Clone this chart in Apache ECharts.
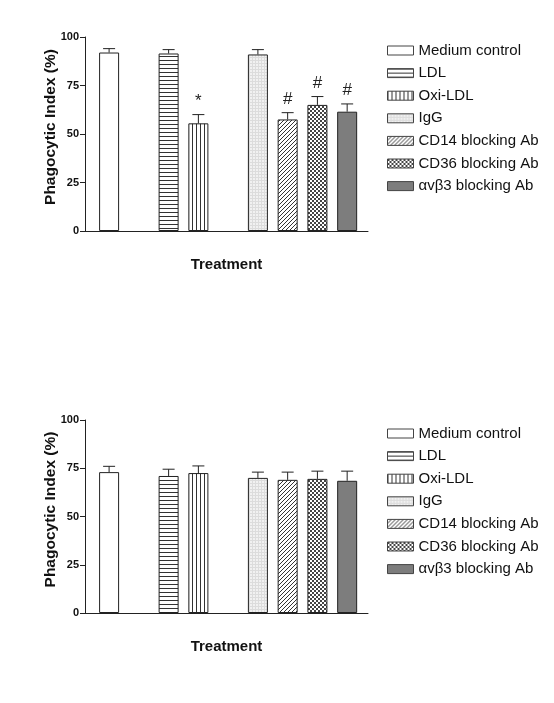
<!DOCTYPE html>
<html>
<head>
<meta charset="utf-8">
<script src="https://cdn.jsdelivr.net/npm/echarts@6/dist/echarts.min.js"></script>
<style>
  html, body { margin: 0; padding: 0; background: #fff; }
  #chart { width: 554px; height: 703px; }
</style>
</head>
<body>
<div id="chart"></div>
<script>
// treatment groups and the x slot each one sits in (slots 1 and 4 are empty)
const groups = ['Medium control', 'LDL', 'Oxi-LDL', 'IgG', 'CD14 blocking Ab', 'CD36 blocking Ab', 'αvβ3 blocking Ab'];
const slots = [0, 2, 3, 5, 6, 7, 8];

// upper panel
const meanTop = [92, 91.5, 55.5, 91, 57.5, 65, 61.5];
const errTop = [2, 2, 4.5, 2.5, 3.5, 4.3, 4];
const marksTop = ['', '', '*', '', '#', '#', '#'];

// lower panel
const meanBottom = [73, 71, 72.5, 70, 69, 69.5, 68.5];
const errBottom = [3, 3.5, 3.7, 3, 4, 4, 5];
const marksBottom = ['', '', '', '', '', '', ''];

const yTicks = [0, 25, 50, 75, 100];

const FONT = 'Liberation Sans, Arial, sans-serif';

function tile(w, h, draw) {
    const c = document.createElement('canvas');
    c.width = w;
    c.height = h;
    const ctx = c.getContext('2d');
    draw(ctx, w, h);
    return { image: c, repeat: 'repeat' };
}

const fills = [
    '#ffffff',
    tile(4, 4, (ctx, w) => {
        ctx.fillStyle = '#fff'; ctx.fillRect(0, 0, w, 4);
        ctx.fillStyle = '#333'; ctx.fillRect(0, 0, w, 1);
    }),
    tile(4, 4, (ctx, w, h) => {
        ctx.fillStyle = '#fff'; ctx.fillRect(0, 0, w, h);
        ctx.fillStyle = '#333'; ctx.fillRect(0, 0, 1, h);
    }),
    tile(3, 3, (ctx, w, h) => {
        ctx.fillStyle = '#f1f1f1'; ctx.fillRect(0, 0, w, h);
        ctx.fillStyle = '#dcdcdc'; ctx.fillRect(0, 0, w, 1); ctx.fillRect(0, 0, 1, h);
    }),
    tile(4, 4, (ctx, w, h) => {
        ctx.fillStyle = '#fff'; ctx.fillRect(0, 0, w, h);
        ctx.fillStyle = '#333';
        for (let i = 0; i < 4; i++) {
            ctx.fillRect(i, 3 - i, 1, 1);
        }
    }),
    tile(4, 4, (ctx, w, h) => {
        ctx.fillStyle = '#fff'; ctx.fillRect(0, 0, w, h);
        ctx.fillStyle = '#444';
        ctx.fillRect(0, 0, 2, 2); ctx.fillRect(2, 2, 2, 2);
    }),
    '#7d7d7d'
];

function barSeries(idx, means) {
    return groups.map((g, i) => ({
        type: 'bar',
        name: g,
        xAxisIndex: idx,
        yAxisIndex: idx,
        barWidth: 20,
        barGap: '-100%',
        data: [[slots[i], means[i]]],
        itemStyle: { color: fills[i], borderColor: '#222', borderWidth: 1 },
        emphasis: { disabled: true },
        z: 2
    }));
}

function errorSeries(idx, means, errs, marks) {
    return {
        type: 'custom',
        xAxisIndex: idx,
        yAxisIndex: idx,
        data: slots.map((s, i) => [s, means[i], errs[i]]),
        z: 3,
        renderItem: (params, api) => {
            const x = api.value(0);
            const m = api.value(1);
            const e = api.value(2);
            const base = api.coord([x, m]);
            const top = api.coord([x, m + e]);
            const children = [
                { type: 'line', shape: { x1: base[0], y1: base[1], x2: top[0], y2: top[1] }, style: { stroke: '#222', lineWidth: 1 } },
                { type: 'line', shape: { x1: top[0] - 6, y1: top[1], x2: top[0] + 6, y2: top[1] }, style: { stroke: '#222', lineWidth: 1 } }
            ];
            const mk = marks[params.dataIndex];
            if (mk) {
                children.push({
                    type: 'text',
                    style: { text: mk, x: top[0], y: top[1] - 5, align: 'center', verticalAlign: 'bottom', font: '17px ' + FONT, fill: '#222' }
                });
            }
            return { type: 'group', children: children };
        }
    };
}

function xAxis(idx) {
    return {
        type: 'value',
        gridIndex: idx,
        min: -0.81,
        max: 8.7,
        name: 'Treatment',
        nameLocation: 'middle',
        nameGap: 26,
        nameTextStyle: { fontFamily: FONT, fontWeight: 'bold', fontSize: 15, color: '#111' },
        axisLine: { show: true, onZero: false, lineStyle: { color: '#222', width: 1 } },
        axisTick: { show: false },
        axisLabel: { show: false },
        splitLine: { show: false }
    };
}

function yAxis(idx) {
    return {
        type: 'value',
        gridIndex: idx,
        min: yTicks[0],
        max: yTicks[yTicks.length - 1],
        interval: 25,
        name: 'Phagocytic Index (%)',
        nameLocation: 'middle',
        nameGap: 26,
        nameMoveOverlap: false,
        nameTextStyle: { fontFamily: FONT, fontWeight: 'bold', fontSize: 15.5, color: '#111', padding: [0, 0, 0, 14] },
        axisLine: { show: true, onZero: false, lineStyle: { color: '#222', width: 1 } },
        axisTick: { show: true, length: 5, lineStyle: { color: '#222' } },
        axisLabel: { fontFamily: FONT, fontWeight: 'bold', fontSize: 11, color: '#111', margin: 6 },
        splitLine: { show: false }
    };
}

function legend(top) {
    return {
        orient: 'vertical',
        left: 387,
        top: top,
        data: groups,
        itemWidth: 26,
        itemHeight: 9,
        itemGap: 7.6,
        padding: 0,
        selectedMode: false,
        icon: 'rect',
        itemStyle: { borderWidth: 1, borderColor: '#444' },
        textStyle: { fontFamily: FONT, fontSize: 15, color: '#111', lineHeight: 15 }
    };
}

const chart = echarts.init(document.getElementById('chart'), null, { renderer: 'canvas' });
chart.setOption({
    animation: false,
    backgroundColor: '#fff',
    grid: [
        { left: 85, width: 283, top: 37, height: 194 },
        { left: 85, width: 283, top: 420, height: 193 }
    ],
    xAxis: [xAxis(0), xAxis(1)],
    yAxis: [yAxis(0), yAxis(1)],
    legend: [legend(43), legend(426)],
    series: [
        ...barSeries(0, meanTop),
        errorSeries(0, meanTop, errTop, marksTop),
        ...barSeries(1, meanBottom),
        errorSeries(1, meanBottom, errBottom, marksBottom)
    ]
});
</script>
</body>
</html>
